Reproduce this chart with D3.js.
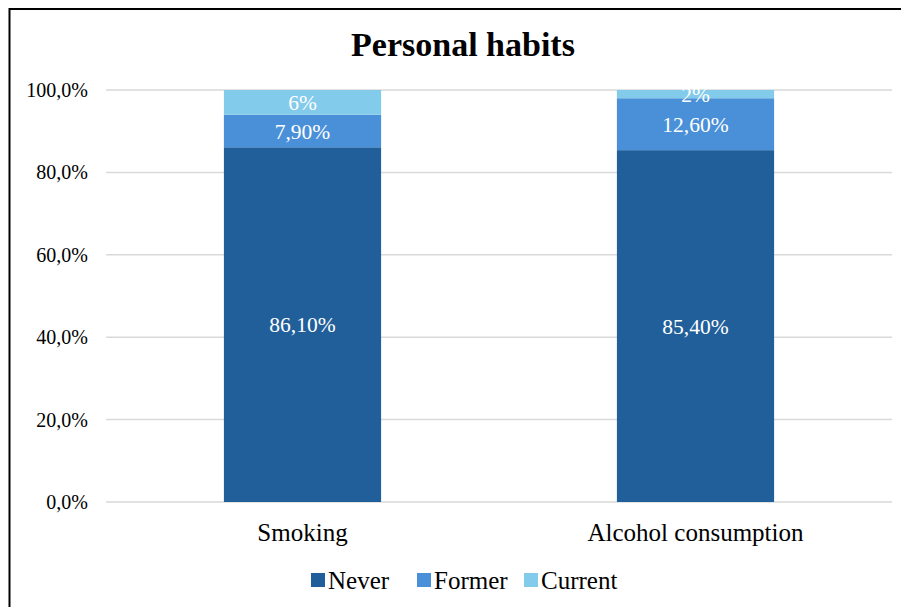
<!DOCTYPE html>
<html>
<head>
<meta charset="utf-8">
<script src="https://cdn.jsdelivr.net/npm/d3@7"></script>
<style>
  html, body { margin: 0; padding: 0; background: #fff; }
  #chart { width: 901px; height: 607px; }
</style>
</head>
<body>
<div id="chart"></div>
<script>
'use strict';

const categories = ['Smoking', 'Alcohol consumption'];
const series = ['Never', 'Former', 'Current'];
const never = [86.1, 85.4];
const former = [7.9, 12.6];
const current = [6, 2];
const labels = {
    Never: ['86,10%', '85,40%'],
    Former: ['7,90%', '12,60%'],
    Current: ['6%', '2%']
};
const yTicks = [0, 20, 40, 60, 80, 100];
const colors = ['#215f9a', '#4a90d8', '#83cbeb'];

const width = 901, height = 607;
const margin = { top: 90, right: 9, bottom: 105, left: 106 };
const font = '"Liberation Serif", "Times New Roman", serif';

const svg = d3.select('#chart')
    .append('svg')
    .attr('width', width)
    .attr('height', height);

// chart frame (only top and left edges show in the picture)
svg.append('path')
    .attr('d', `M9.5,${height} V9 H${width}`)
    .attr('fill', 'none')
    .attr('stroke', '#000')
    .attr('stroke-width', 2);

svg.append('text')
    .attr('x', 463)
    .attr('y', 56)
    .attr('text-anchor', 'middle')
    .style('font', `bold 34px ${font}`)
    .text('Personal habits');

const x = d3.scaleBand()
    .domain(categories)
    .range([margin.left, width - margin.right])
    .paddingInner(0.6)
    .paddingOuter(0.3);

const y = d3.scaleLinear()
    .domain([0, 100])
    .range([height - margin.bottom, margin.top]);

// gridlines
svg.append('g')
    .selectAll('line')
    .data(yTicks)
    .join('line')
    .attr('x1', margin.left)
    .attr('x2', width - margin.right)
    .attr('y1', d => y(d))
    .attr('y2', d => y(d))
    .attr('stroke', '#d9d9d9')
    .attr('stroke-width', 1.5);

// y axis labels
const yAxis = svg.append('g')
    .attr('transform', `translate(${margin.left - 18},0)`)
    .call(d3.axisLeft(y).tickValues(yTicks).tickSize(0)
        .tickFormat(d => d.toFixed(1).replace('.', ',') + '%'));
yAxis.select('.domain').remove();
yAxis.selectAll('text')
    .attr('x', 0)
    .attr('fill', '#000')
    .style('font', `20px ${font}`);

// stacked data
const rows = categories.map((c, i) => ({ category: c, Never: never[i], Former: former[i], Current: current[i] }));
const stacked = d3.stack().keys(series)(rows);

const layers = svg.append('g')
    .selectAll('g')
    .data(stacked)
    .join('g')
    .attr('fill', (d, i) => colors[i]);

layers.selectAll('rect')
    .data(d => d)
    .join('rect')
    .attr('x', d => x(d.data.category))
    .attr('width', x.bandwidth())
    .attr('y', d => y(d[1]))
    .attr('height', d => y(d[0]) - y(d[1]));

// value labels
layers.selectAll('text')
    .data((d, li) => d.map((v, i) => ({ v, text: labels[series[li]][i] })))
    .join('text')
    .attr('x', d => x(d.v.data.category) + x.bandwidth() / 2)
    .attr('y', d => (y(d.v[0]) + y(d.v[1])) / 2)
    .attr('dy', '0.35em')
    .attr('text-anchor', 'middle')
    .attr('fill', '#fff')
    .style('font', `21.5px ${font}`)
    .text(d => d.text);

// x axis labels
const xAxis = svg.append('g')
    .attr('transform', `translate(0,${height - margin.bottom})`)
    .call(d3.axisBottom(x).tickSize(0));
xAxis.select('.domain').remove();
xAxis.selectAll('text')
    .attr('y', 30)
    .attr('dy', '0.35em')
    .attr('fill', '#000')
    .style('font', `25px ${font}`);

// legend
const legendX = [311, 417, 524];
const legend = svg.append('g')
    .selectAll('g')
    .data(series)
    .join('g')
    .attr('transform', (d, i) => `translate(${legendX[i]},580)`);

legend.append('rect')
    .attr('x', 0)
    .attr('y', -7)
    .attr('width', 14)
    .attr('height', 14)
    .attr('fill', (d, i) => colors[i]);

legend.append('text')
    .attr('x', 17)
    .attr('dy', '0.35em')
    .style('font', `25px ${font}`)
    .text(d => d);
</script>
</body>
</html>
